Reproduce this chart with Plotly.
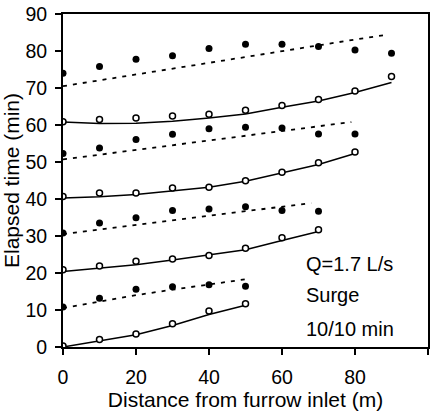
import plotly.graph_objects as go

# Distance (m)
dist = [0, 10, 20, 30, 40, 50, 60, 70, 80, 90]

# Advance times (open circles) per surge cycle
adv1 = [0.3, 2.0, 3.5, 6.3, 9.7, 11.7]
adv2 = [20.9, 21.9, 23.2, 23.8, 24.7, 26.7, 29.5, 31.7]
adv3 = [40.7, 41.6, 41.6, 43.0, 43.2, 44.9, 47.2, 49.8, 52.7]
adv4 = [60.9, 61.5, 61.9, 62.4, 62.9, 64.0, 65.3, 66.9, 69.2, 73.1]

# Recession times (filled circles) per surge cycle
rec1 = [10.8, 13.2, 15.6, 16.3, 16.8, 16.4]
rec2 = [30.8, 33.5, 34.9, 36.9, 37.3, 37.9, 36.9, 36.7]
rec3 = [52.3, 53.8, 56.1, 57.5, 59.0, 59.4, 59.2, 57.6, 57.6]
rec4 = [74.0, 75.8, 77.8, 78.7, 80.7, 81.8, 81.8, 81.2, 80.3, 79.4]

# Simulated advance (solid lines)
fit1 = [0.0, 1.6, 3.3, 5.8, 8.8, 11.3]
fit2 = [20.4, 21.2, 22.2, 23.5, 24.8, 26.3, 28.8, 31.2]
fit3 = [40.3, 40.6, 41.2, 42.3, 43.2, 44.8, 47.0, 49.3, 52.3]
fit4 = [60.8, 60.4, 60.5, 61.0, 61.9, 63.0, 64.8, 66.5, 68.8, 71.5]

# Simulated recession (dotted lines)
dx1 = [0, 10, 20, 30, 40, 50]
dy1 = [10.5, 12.3, 14.0, 15.5, 16.9, 18.3]
dx2 = [0, 10, 20, 30, 40, 50, 60, 68]
dy2 = [30.5, 31.8, 33.0, 34.3, 35.5, 36.7, 37.9, 38.9]
dx3 = [0, 10, 20, 30, 40, 50, 60, 70, 79]
dy3 = [50.7, 52.0, 53.3, 54.6, 55.8, 57.0, 58.5, 59.8, 60.8]
dx4 = [0, 10, 20, 30, 40, 50, 60, 70, 80, 88]
dy4 = [70.5, 72.1, 73.6, 75.2, 76.8, 78.3, 80.0, 81.5, 83.1, 84.3]

x_ticks = [0, 20, 40, 60, 80, 100]
y_ticks = [0, 10, 20, 30, 40, 50, 60, 70, 80, 90]
note_lines = ["Q=1.7 L/s", "Surge", "10/10 min"]
note_y = [22.4, 14.1, 4.9]

FONT = "Liberation Sans, Arial, sans-serif"

fig = go.Figure()

for fy in [fit1, fit2, fit3, fit4]:
    fig.add_trace(go.Scatter(x=dist[:len(fy)], y=fy, mode="lines",
                             line=dict(color="black", width=1.5), showlegend=False))
for dx, dy in [(dx1, dy1), (dx2, dy2), (dx3, dy3), (dx4, dy4)]:
    fig.add_trace(go.Scatter(x=dx, y=dy, mode="lines",
                             line=dict(color="black", width=1.8, dash="4px,6px"), showlegend=False))
for ay in [adv1, adv2, adv3, adv4]:
    fig.add_trace(go.Scatter(x=dist[:len(ay)], y=ay, mode="markers",
                             marker=dict(symbol="circle", size=6, color="white",
                                         line=dict(color="black", width=1.5)),
                             showlegend=False))
for ry in [rec1, rec2, rec3, rec4]:
    fig.add_trace(go.Scatter(x=dist[:len(ry)], y=ry, mode="markers",
                             marker=dict(symbol="circle", size=7, color="black",
                                         line=dict(width=0)),
                             showlegend=False))

for t, yv in zip(note_lines, note_y):
    fig.add_annotation(x=65.9, y=yv, text=t, showarrow=False, xanchor="left",
                       yanchor="middle", font=dict(family=FONT, size=20, color="black"))

axis_common = dict(showgrid=False, zeroline=False, showline=True, linecolor="black",
                   linewidth=2, mirror=True, ticks="outside", ticklen=6, tickwidth=1.5,
                   tickcolor="black", tickfont=dict(family=FONT, size=19.5, color="black"))

fig.update_xaxes(range=[0, 100], tickvals=x_ticks, ticktext=[str(v) for v in x_ticks],
                 title=dict(text="Distance from furrow inlet (m)", standoff=2,
                            font=dict(family=FONT, size=21, color="black")),
                 ticklabelstandoff=6, **axis_common)
fig.update_yaxes(range=[0, 90], tickvals=y_ticks, ticktext=[str(v) for v in y_ticks],
                 title=dict(text="Elapsed time (min)", standoff=4,
                            font=dict(family=FONT, size=21, color="black")),
                 ticklabelstandoff=4, **axis_common)

fig.update_layout(width=443, height=413, margin=dict(l=63, r=15, t=14, b=66, autoexpand=False),
                  plot_bgcolor="white", paper_bgcolor="white",
                  font=dict(family=FONT, color="black"))

fig.write_html("out.html")
